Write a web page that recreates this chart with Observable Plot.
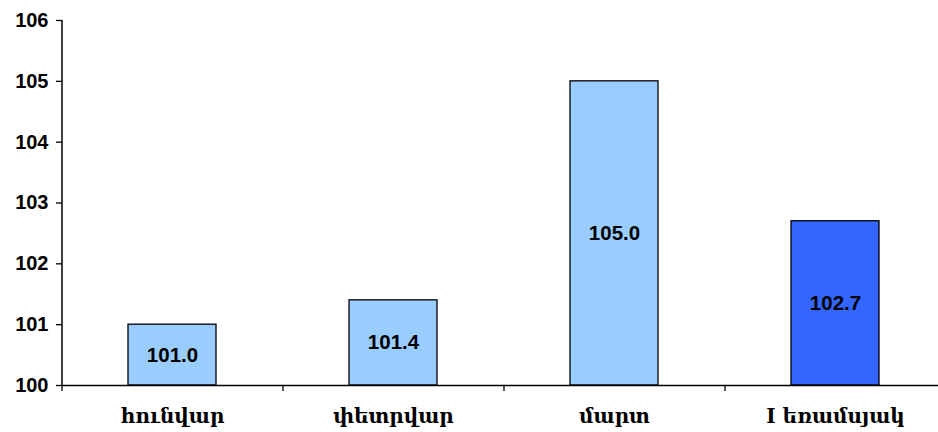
<!DOCTYPE html>
<html>
<head>
<meta charset="utf-8">
<script src="https://cdn.jsdelivr.net/npm/d3@7"></script>
<script src="https://cdn.jsdelivr.net/npm/@observablehq/plot@0.6"></script>
<style>
  html, body { margin: 0; padding: 0; background: #fff; }
  svg { display: block; }
</style>
</head>
<body>
<div id="chart"></div>
<script>
const categories = ["հունվար", "փետրվար", "մարտ", "I եռամսյակ"];
const values = [101.0, 101.4, 105.0, 102.7];
const colors = ["#99CCFF", "#99CCFF", "#99CCFF", "#3366FF"];
const yTicks = [100, 101, 102, 103, 104, 105, 106];

const data = categories.map((c, i) => ({cat: c, value: values[i], color: colors[i]}));
const base = 100;
const halfStep = 110.5;

const chart = Plot.plot({
  width: 938,
  height: 432,
  marginLeft: 62,
  marginRight: -8,
  marginTop: 20,
  marginBottom: 47,
  style: {background: "#fff", overflow: "visible"},
  x: {domain: categories, paddingInner: 0.6, paddingOuter: 0.3, label: null},
  y: {domain: [100, 106], label: null},
  marks: [
    Plot.barY(data, {x: "cat", y1: base, y2: "value", fill: "color", stroke: "#000", strokeWidth: 1.3}),
    Plot.text(data, {x: "cat", y: d => (base + d.value) / 2, text: d => d.value.toFixed(1),
      fontFamily: "Liberation Sans, Arial, sans-serif", fontWeight: "bold", fontSize: 20.5, fill: "#000"}),
    Plot.ruleY([base], {stroke: "#000", strokeWidth: 1.5}),
    Plot.ruleX([categories[0]], {x: d => d, dx: -halfStep, y1: 100, y2: 106, stroke: "#000", strokeWidth: 1.5}),
    Plot.ruleX(categories, {x: d => d, dx: -halfStep, y1: base, y2: base, insetBottom: -6, stroke: "#000", strokeWidth: 1.3}),
    Plot.axisY({ticks: yTicks, tickSize: 6, tickPadding: 8, tickFormat: d => String(d),
      fontFamily: "Liberation Sans, Arial, sans-serif", fontWeight: "bold", fontSize: 20, stroke: "#000", strokeWidth: 1.3, color: "#000"}),
    Plot.axisX({tickSize: 0, tickPadding: 23, fontFamily: "DejaVu Serif, serif", fontWeight: "bold", fontSize: 20, color: "#000"})
  ]
});
document.getElementById("chart").appendChild(chart);
</script>
</body>
</html>
